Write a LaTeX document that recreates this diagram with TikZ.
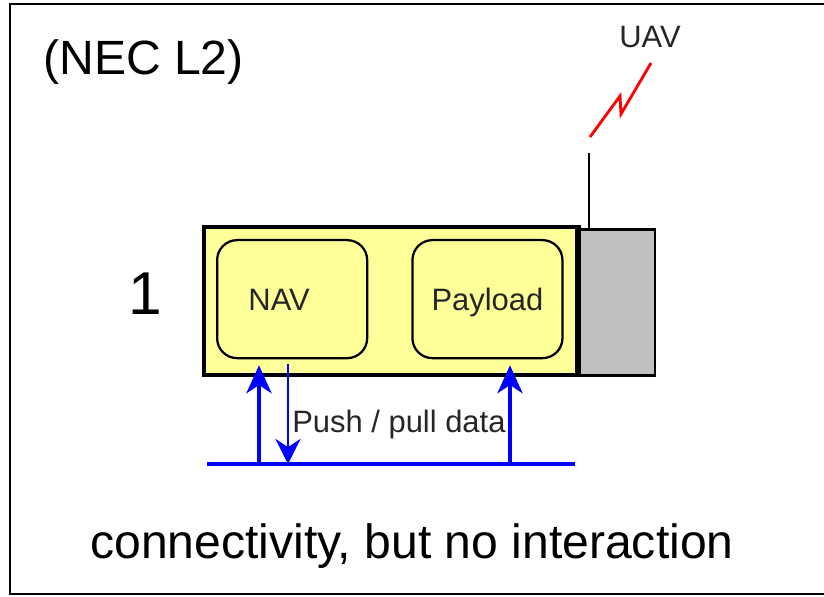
\documentclass[tikz,border=0pt]{standalone}
\usepackage{fontspec}
\setmainfont{Liberation Sans}
\usetikzlibrary{positioning,arrows.meta}
\definecolor{boxyellow}{HTML}{FFFF99}
\definecolor{radiogray}{HTML}{C0C0C0}
\definecolor{busblue}{HTML}{0000FF}

\begin{document}
\begin{tikzpicture}[
    x=0.025cm, y=-0.025cm,
    every node/.style={inner sep=0pt},
    big/.style={font=\fontsize{34.2}{40}\selectfont},
    small/.style={font=\fontsize{22}{26}\selectfont, text=black!85},
    unit/.style={draw, line width=2.6pt, fill=boxyellow, minimum width=9.325cm, minimum height=3.7cm},
    radio/.style={draw, line width=1.8pt, fill=radiogray, minimum width=1.875cm, minimum height=3.65cm},
    module/.style={draw, line width=1.6pt, rounded corners=0.5cm, minimum width=3.75cm, minimum height=2.95cm, small, text height=0.55cm, text depth=0pt},
    uparr/.style={-{Stealth[length=20pt, width=18pt, inset=6pt]}, line width=2.3pt, busblue},
    downarr/.style={-{Stealth[length=18pt, width=18pt, inset=6pt]}, line width=1.1pt, busblue},
    bus/.style={line width=2.3pt, busblue},
    node distance=1.075cm
]
\useasboundingbox (0,0) rectangle (824,597);

% frame (right side is cut off)
\draw[line width=1.5pt] (824,4) -- (10,4) -- (10,594) -- (824,594);

\node[big, anchor=base west] (level) at (43,75) {(NEC L2)};

% the vehicle
\node[unit, anchor=north west] (vehicle) at (202,225) {};
\node[radio, anchor=south west] (radiobox) at (vehicle.south east) {};
\draw[line width=3.6pt] (vehicle.north east) -- (vehicle.south east);

\node[module, anchor=north west] (nav) at (216,239) {NAV\hspace*{0.65cm}};
\node[module, right=of nav] (payload) {Payload};

\node[font=\fontsize{43}{48}\selectfont, anchor=base] (num) at (145,315) {1};

% antenna and link
\coordinate (ant) at (589,153);
\draw[line width=2pt] (ant) -- (ant |- radiobox.north);
\draw[red, line width=2pt] (590,137) -- (620,96) -- (621,114) -- (651,63);
\node[small, anchor=base] (uav) at (650,48) {UAV};

% data bus
\coordinate (busW) at (207,464);
\coordinate (busE) at (575,464);
\draw[bus] (busW) -- (busE);

\coordinate (tapA) at (259,464);
\coordinate (tapB) at (288,464);
\coordinate (tapC) at (510,464);
\draw[uparr, shorten >=0.15cm] (tapA) -- (tapA |- nav.south);
\draw[downarr, shorten <=0.125cm] (tapB |- nav.south) -- (tapB);
\draw[uparr, shorten >=0.15cm] (tapC) -- (tapC |- payload.south);

\node[small, anchor=base west] (data) at (292,433) {Push / pull data};

\node[big, anchor=base west] (caption) at (90,558) {connectivity, but no interaction};

\end{tikzpicture}
\end{document}
